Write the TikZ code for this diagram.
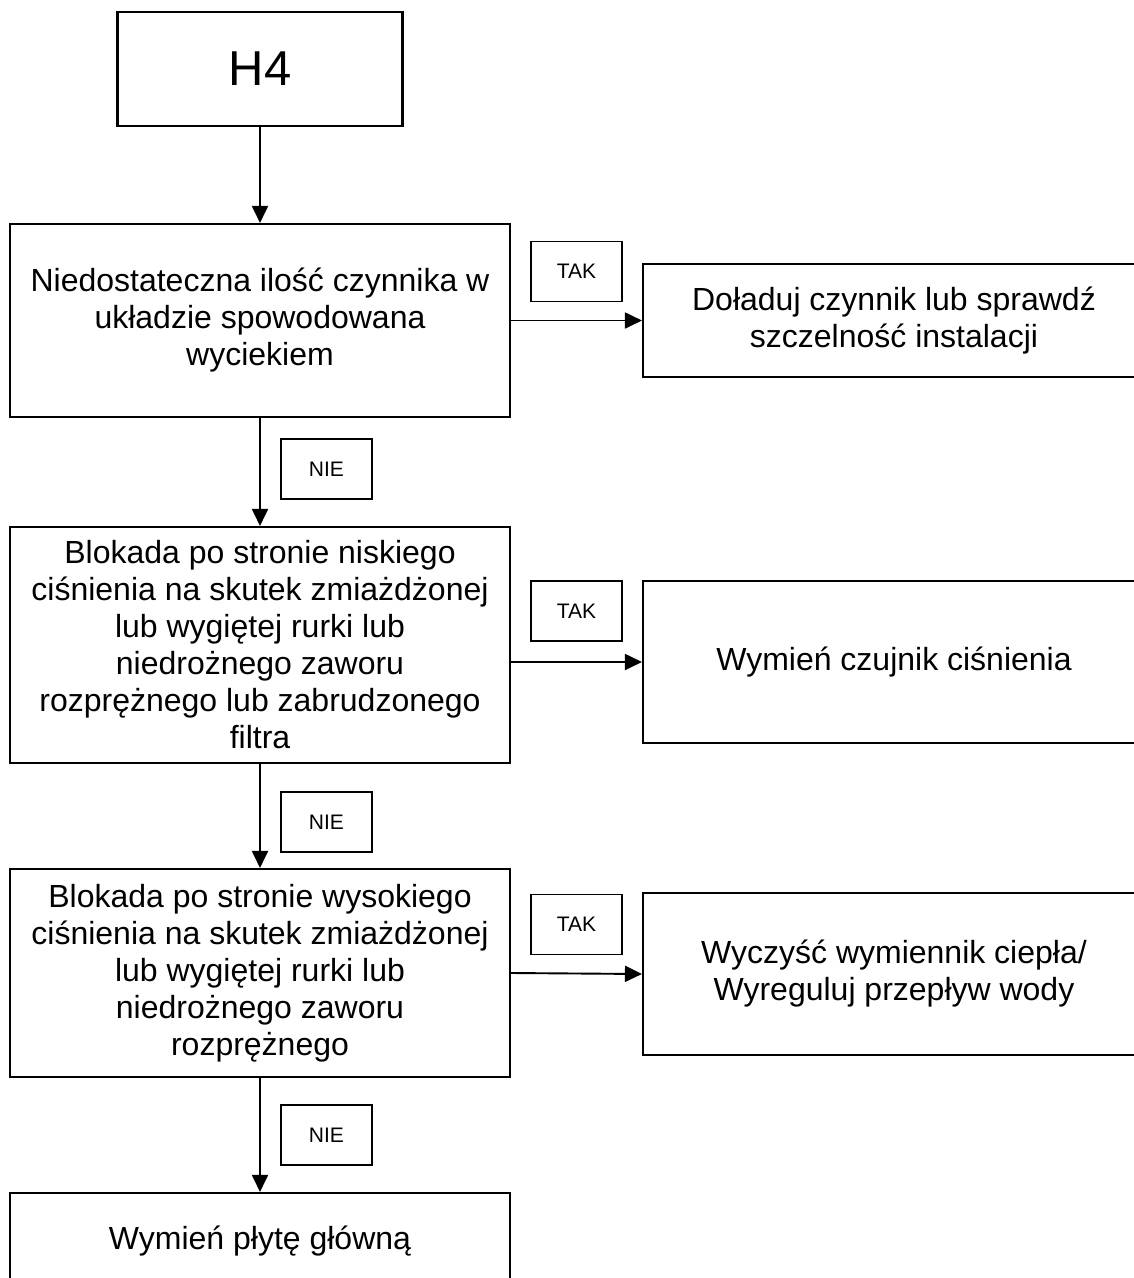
\documentclass[tikz,border=0pt]{standalone}
\usepackage{fontspec}
\setmainfont{Liberation Sans}
\usetikzlibrary{arrows.meta}
\begin{document}
\begin{tikzpicture}[x=1pt,y=-1pt,
  box/.style={draw,line width=2.1pt,rectangle,align=center,inner sep=0pt,
    minimum width=500pt,font=\fontsize{32}{37}\selectfont},
  rbox/.style={box,minimum width=502pt},
  lbl/.style={draw,line width=1.8pt,rectangle,inner sep=0pt,
    minimum width=91pt,minimum height=60pt,font=\fontsize{21}{25}\selectfont},
  arr/.style={line width=1.9pt,-{Triangle[length=17pt,width=16pt]}}]
\clip (0,0) rectangle (1134,1278);
\fill[white] (0,0) rectangle (1134,1278);

\node[box,minimum width=285pt,minimum height=114pt,font=\fontsize{49}{53}\selectfont] (h4) at (260,69) {H4};

\node[box,minimum height=193pt] (b1) at (260,320.5) {\raisebox{-4pt}{\parbox{480pt}{\centering Niedostateczna ilość czynnika w\\układzie spowodowana\\wyciekiem}}};
\node[lbl] (t1) at (576.5,271.5) {TAK};
\node[rbox,minimum height=113pt] (r1) at (894,320.5) {\raisebox{-4pt}{\parbox{480pt}{\centering Doładuj czynnik lub sprawdź\\szczelność instalacji}}};
\node[lbl] (n1) at (326.5,469) {NIE};

\node[box,minimum height=236pt] (b2) at (260,645) {Blokada po stronie niskiego\\ciśnienia na skutek zmiażdżonej\\lub wygiętej rurki lub\\niedrożnego zaworu\\rozprężnego lub zabrudzonego\\filtra};
\node[lbl] (t2) at (576.5,611) {TAK};
\node[rbox,minimum height=162pt] (r2) at (894,662) {Wymień czujnik ciśnienia};
\node[lbl] (n2) at (326.5,822) {NIE};

\node[box,minimum height=208pt] (b3) at (260,973) {Blokada po stronie wysokiego\\ciśnienia na skutek zmiażdżonej\\lub wygiętej rurki lub\\niedrożnego zaworu\\rozprężnego};
\node[lbl] (t3) at (576.5,924.5) {TAK};
\node[rbox,minimum height=162pt] (r3) at (894,974) {Wyczyść wymiennik ciepła/\\Wyreguluj przepływ wody};
\node[lbl] (n3) at (326.5,1135) {NIE};

\node[box,minimum height=96pt] (b4) at (260,1241) {Wymień płytę główną};

\draw[arr] (h4.south) -- (b1.north);
\draw[arr] (b1.south) -- (b2.north);
\draw[arr] (b2.south) -- (b3.north);
\draw[arr] (b3.south) -- (b4.north);
\draw[arr] (b1.east) -- (r1.west);
\draw[arr] (b2.east |- r2.west) -- (r2.west);
\draw[arr] (b3.east) -- (r3.west);
\end{tikzpicture}
\end{document}
